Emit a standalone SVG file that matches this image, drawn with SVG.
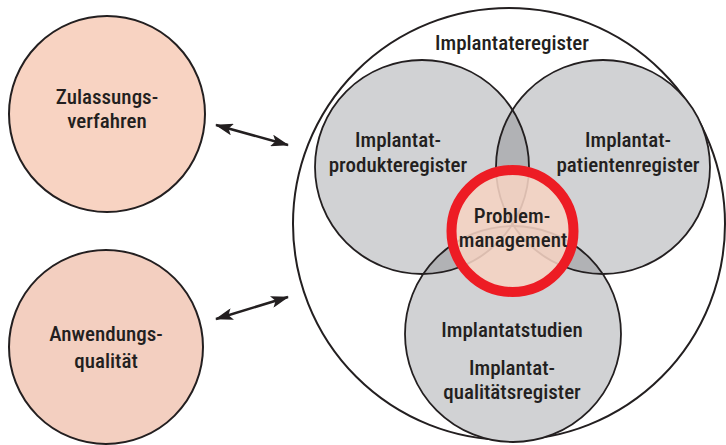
<svg xmlns="http://www.w3.org/2000/svg" width="726" height="445" viewBox="0 0 726 445">
<style>
text{font-family:"Roboto Condensed","Liberation Sans Narrow","Liberation Sans",Arial,sans-serif;font-size:21px;font-weight:500;fill:#231f20;text-anchor:middle}
.side{stroke:#231f20;stroke-width:2}
.reg{fill:#d1d2d4}
.regline{fill:none;stroke:#231f20;stroke-width:1.8}
.lens{fill:#b1b2b5}
.conn{stroke:#231f20;stroke-width:2.5;fill:none}
</style>
<defs>
<marker id="ah" viewBox="0 0 18 12" refX="17" refY="6" markerWidth="18" markerHeight="12" markerUnits="userSpaceOnUse" orient="auto-start-reverse">
<path d="M0,0 L18,6 L0,12 L4,6 Z" fill="#231f20"/>
</marker>
<clipPath id="cA"><circle cx="422" cy="167" r="107"/></clipPath>
<clipPath id="cB"><circle cx="603" cy="167" r="107"/></clipPath>
</defs>
<g id="zulassung">
<circle class="side" cx="107" cy="114" r="98" fill="#f8d3c2"/>
<text x="107" y="104">Zulassungs-</text>
<text x="107" y="128">verfahren</text>
</g>
<g id="anwendung">
<circle class="side" cx="106" cy="347" r="97" fill="#f3cfc0"/>
<text x="106" y="341">Anwendungs-</text>
<text x="106" y="368">qualität</text>
</g>
<g id="implantateregister">
<circle cx="509" cy="224" r="216" fill="#ffffff" stroke="#231f20" stroke-width="2"/>
<text x="512" y="50">Implantateregister</text>
</g>
<g id="registers">
<circle class="reg" cx="422" cy="167" r="107"/>
<circle class="reg" cx="603" cy="167" r="107"/>
<circle class="reg" cx="513" cy="334" r="108"/>
<circle class="lens" cx="603" cy="167" r="107" clip-path="url(#cA)"/>
<circle class="lens" cx="513" cy="334" r="108" clip-path="url(#cA)"/>
<circle class="lens" cx="513" cy="334" r="108" clip-path="url(#cB)"/>
<circle class="regline" cx="422" cy="167" r="107"/>
<circle class="regline" cx="603" cy="167" r="107"/>
<circle class="regline" cx="513" cy="334" r="108"/>
</g>
<g id="produkteregister">
<text x="398" y="147">Implantat-</text>
<text x="398" y="172">produkteregister</text>
</g>
<g id="patientenregister">
<text x="628" y="147">Implantat-</text>
<text x="628" y="172">patientenregister</text>
</g>
<g id="studien">
<text x="512" y="337">Implantatstudien</text>
<text x="512" y="375">Implantat-</text>
<text x="512" y="399">qualitätsregister</text>
</g>
<g id="problemmanagement">
<circle cx="512.5" cy="231" r="61" fill="#f5d3c3" fill-opacity="0.88" stroke="#ed1c24" stroke-width="10"/>
<text x="512" y="223">Problem-</text>
<text x="513" y="247">management</text>
</g>
<g id="connectors">
<line class="conn" x1="216" y1="125" x2="288" y2="145" marker-start="url(#ah)" marker-end="url(#ah)"/>
<line class="conn" x1="216" y1="319" x2="288" y2="297" marker-start="url(#ah)" marker-end="url(#ah)"/>
</g>
</svg>
